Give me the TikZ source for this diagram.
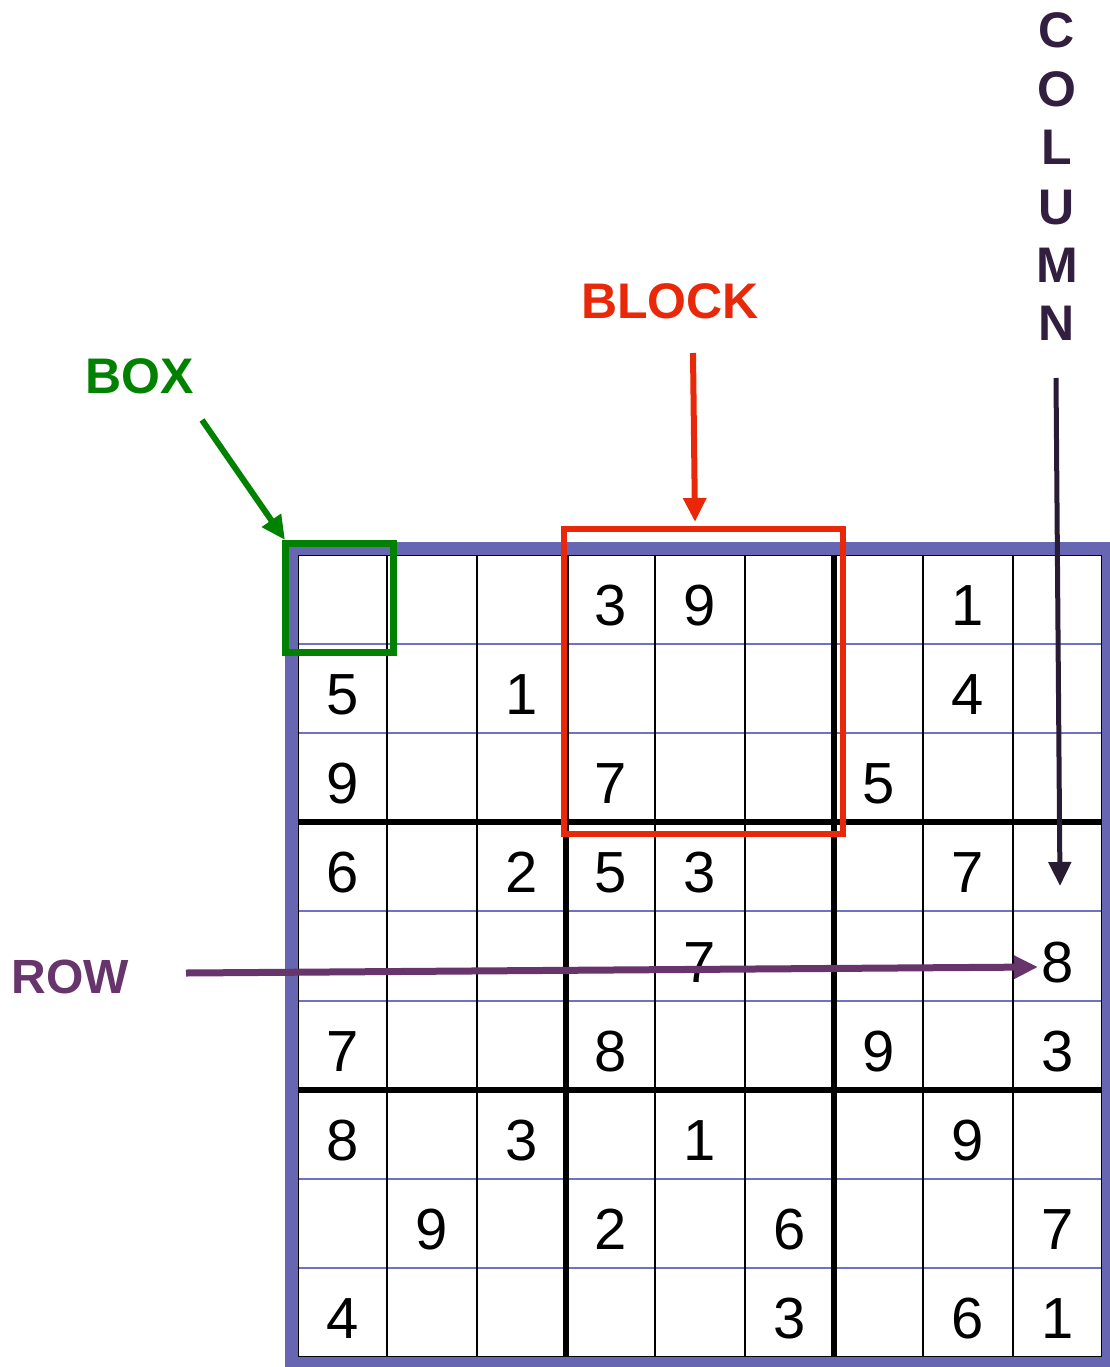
\documentclass[tikz,border=0pt]{standalone}
\usepackage{fontspec}
\setmainfont{Liberation Sans}
\usetikzlibrary{arrows.meta}
\definecolor{gridpurple}{RGB}{102,102,178}
\definecolor{thinpurple}{RGB}{112,112,196}
\definecolor{boxgreen}{RGB}{0,130,0}
\definecolor{blockred}{RGB}{232,40,8}
\definecolor{rowpurple}{RGB}{104,52,108}
\definecolor{colpurple}{RGB}{50,30,62}
\definecolor{colarrow}{RGB}{40,28,52}
\tikzset{
  thinh/.style={draw=thinpurple, line width=2pt},
  thinv/.style={draw=black, line width=2pt},
  thickline/.style={draw=black, line width=6pt},
  digit/.style={anchor=base, inner sep=0pt, font=\fontsize{58}{58}\selectfont},
  lab/.style={anchor=base, inner sep=0pt, font=\fontsize{50}{50}\selectfont\bfseries},
  collet/.style={lab, text=colpurple},
  bigarrow/.style={line width=6pt, -{Triangle[length=24pt,width=22pt]}}
}
\begin{document}
\begin{tikzpicture}[x=1pt,y=-1pt]
\useasboundingbox (0,0) rectangle (1110,1367);
\fill[white] (0,0) rectangle (1110,1367);
\clip (0,0) rectangle (1110,1367);
\def\gx{298}\def\gy{555}\def\cw{89.33}\def\ch{89.11}
% thin grid lines
\foreach \r in {1,2,4,5,7,8}
  \draw[thinh] (\gx,{\gy+\r*\ch}) -- ({\gx+9*\cw},{\gy+\r*\ch});
\foreach \c in {1,2,4,5,7,8}
  \draw[thinv] ({\gx+\c*\cw},\gy) -- ({\gx+\c*\cw},{\gy+9*\ch});
% block lines
\foreach \r in {3,6}
  \draw[thickline] (\gx,{\gy+\r*\ch}) -- ({\gx+9*\cw},{\gy+\r*\ch});
\foreach \c in {3,6}
  \draw[thickline] ({\gx+\c*\cw},\gy) -- ({\gx+\c*\cw},{\gy+9*\ch});
% inner edge and outer border
\draw[black, line width=2pt] (\gx,\gy) rectangle ({\gx+9*\cw},{\gy+9*\ch});
\draw[gridpurple, line width=13pt] ({\gx-6.5},{\gy-6.5}) rectangle ({\gx+9*\cw+6.5},{\gy+9*\ch+6.5});
% digits
\foreach \r/\c/\v in {0/3/3,0/4/9,0/7/1,
  1/0/5,1/2/1,1/7/4,
  2/0/9,2/3/7,2/6/5,
  3/0/6,3/2/2,3/3/5,3/4/3,3/7/7,
  4/4/7,4/8/8,
  5/0/7,5/3/8,5/6/9,5/8/3,
  6/0/8,6/2/3,6/4/1,6/7/9,
  7/1/9,7/3/2,7/5/6,7/8/7,
  8/0/4,8/5/3,8/7/6,8/8/1}
  \node[digit] (d\r\c) at ({\gx+(\c+0.5)*\cw},{\gy+(\r+0.5)*\ch+26}) {\v};
% labels
\node[lab, text=boxgreen] (boxlabel) at (140,393) {BOX};
\node[lab, text=blockred] (blocklabel) at (670,318) {BLOCK};
\node[lab, text=rowpurple, font=\fontsize{48}{48}\selectfont\bfseries] (rowlabel) at (70,993) {ROW};
\node[collet] (colC) at (1057,48) {C};
\node[collet] (colO) at (1057,107) {O};
\node[collet] (colL) at (1057,165) {L};
\node[collet] (colU) at (1057,224) {U};
\node[collet] (colM) at (1057,282) {M};
\node[collet] (colN) at (1057,340) {N};
% arrow end points
\coordinate (boxstart) at (202,420);
\coordinate (boxtip) at (285,540);
\coordinate (blockstart) at (693,353);
\coordinate (blocktip) at (695,522);
\coordinate (rowstart) at (186,973);
\coordinate (rowtip) at (1038,967);
\coordinate (colstart) at (1056,378);
\coordinate (coltip) at (1060,886);
% arrows
\draw[bigarrow, rowpurple, line width=7pt] (rowstart) -- (rowtip);
\draw[bigarrow, colarrow, line width=5pt] (colstart) -- (coltip);
\draw[bigarrow, blockred] (blockstart) -- (blocktip);
\draw[bigarrow, boxgreen] (boxstart) -- (boxtip);
% highlight rectangles
\draw[blockred, line width=6pt] (564,529) rectangle (843,834);
\draw[boxgreen, line width=7pt] (285,543) rectangle (393,652);
\end{tikzpicture}
\end{document}
